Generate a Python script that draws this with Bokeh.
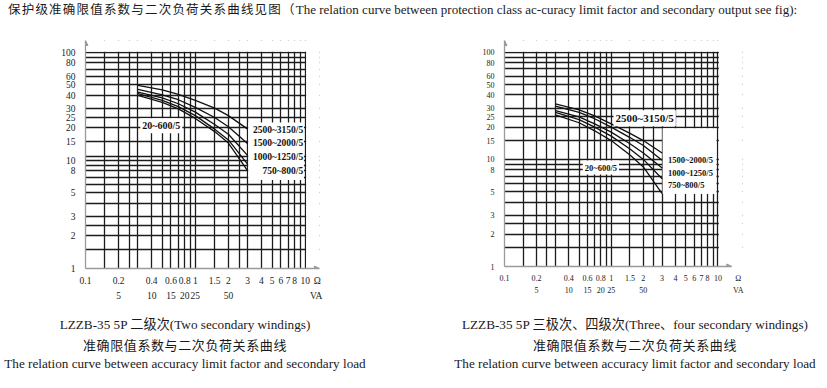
from bokeh.plotting import figure
from bokeh.models import (Range1d, LogScale, LogAxis, FixedTicker, CustomJSTickFormatter,
                          Label, BoxAnnotation, Div, Arrow, NormalHead)
from bokeh.layouts import column, row
from bokeh.embed import file_html
from bokeh.resources import INLINE

SERIF = "Liberation Serif"
CJK = "Noto Sans CJK SC"

# ---------------- data ----------------
x_ohm = [0.3, 0.5, 0.7, 1.0, 1.5, 2.0, 3.0]

# LZZB-35 5P two secondary windings
two_2500_3150 = [49.5, 45.0, 41.0, 36.0, 30.5, 26.0, 19.5]
two_1500_2000 = [45.5, 40.5, 36.5, 31.0, 25.0, 20.5, 14.3]
two_1000_1250 = [43.0, 38.0, 33.5, 28.0, 21.5, 17.5, 11.1]
two_750_800 = [41.5, 36.0, 31.5, 26.0, 19.5, 15.5, 9.2]
two_20_600 = [40.0, 34.5, 30.0, 24.5, 18.5, 14.5, 8.0]

# LZZB-35 5P three / four secondary windings
four_2500_3150 = [33.0, 29.0, 25.5, 21.5, 17.5, 15.0, 11.5]
four_1500_2000 = [31.5, 27.5, 24.0, 20.0, 16.0, 13.5, 9.8]
four_1000_1250 = [28.5, 25.0, 21.5, 18.0, 14.0, 11.5, 8.3]
four_750_800 = [27.5, 23.5, 20.0, 16.5, 12.5, 10.0, 6.6]
four_20_600 = [26.0, 22.0, 18.5, 15.0, 11.0, 8.5, 4.8]

x_grid = [0.15, 0.2, 0.25, 0.3, 0.4, 0.5, 0.6, 0.7, 0.8, 0.9, 1, 1.5, 2, 2.5, 3, 4, 5, 6, 7, 8, 9, 10]
y_grid_left = [1.5, 2, 2.5, 3, 4, 5, 6, 7, 8, 9, 10, 11, 15, 20, 25, 30, 40, 50, 60, 70, 80, 90, 100]
y_grid_right = [1.5, 2, 2.5, 3, 4, 5, 6, 7, 8, 9, 10, 15, 20, 25, 30, 40, 50, 60, 70, 80, 90, 100]
x_tick_labels = [0.1, 0.2, 0.4, 0.6, 0.8, 1, 1.5, 2, 3, 4, 5, 6, 7, 8, 10]
y_tick_labels = [1, 2, 3, 5, 8, 10, 15, 20, 25, 30, 40, 50, 60, 80, 100]
va_tick_labels = [5, 10, 15, 20, 25, 50]
VA_PER_OHM = 25  # 5 A secondary: VA = 25 x ohm

title_cn = "保护级准确限值系数与二次负荷关系曲线见图（"
title_en = "The relation curve between protection class ac-curacy limit factor and secondary output see fig):"
cap_left_1 = "LZZB-35 5P 二级次(Two secondary windings)"
cap_right_1 = "LZZB-35 5P 三极次、四级次(Three、four secondary windings)"
cap_2 = "准确限值系数与二次负荷关系曲线"
cap_3 = "The relation curve between accuracy limit factor and secondary load"

AXIS_GRAY = "#9a9a9a"


def make_chart(x_end, y_end, fw, fh, bl, br, bt, bb, tick_fs, va_standoff, y_grid,
               series, labels, box, ohm_pos, va_pos):
    p = figure(x_axis_type="log", y_axis_type="log",
               x_range=Range1d(0.1, x_end), y_range=Range1d(1, y_end),
               frame_width=fw, frame_height=fh,
               min_border_left=bl, min_border_right=br, min_border_top=bt, min_border_bottom=bb,
               output_backend="svg", toolbar_location=None)
    p.outline_line_color = None
    p.background_fill_color = "white"
    p.border_fill_color = "white"

    p.xgrid.ticker = FixedTicker(ticks=x_grid)
    p.ygrid.ticker = FixedTicker(ticks=y_grid)
    for g in (p.xgrid, p.ygrid):
        g.grid_line_color = "#1c1c1c"
        g.grid_line_width = 1.3

    p.extra_x_ranges = {"va": Range1d(0.1 * VA_PER_OHM, x_end * VA_PER_OHM)}
    p.extra_x_scales = {"va": LogScale()}

    p.xaxis.ticker = FixedTicker(ticks=x_tick_labels + [ohm_pos])
    p.yaxis.ticker = FixedTicker(ticks=y_tick_labels)
    va_axis = LogAxis(x_range_name="va",
                      ticker=FixedTicker(ticks=va_tick_labels + [va_pos * VA_PER_OHM]))
    p.add_layout(va_axis, "below")

    p.xaxis[0].formatter = CustomJSTickFormatter(args=dict(unit="Ω"),
                                                 code="return tick > 10.5 ? unit : String(tick)")
    va_axis.formatter = CustomJSTickFormatter(args=dict(unit="VA"),
                                              code="return tick > 260 ? unit : String(tick)")
    p.yaxis[0].formatter = CustomJSTickFormatter(code="return String(tick)")

    for ax in (p.xaxis[0], p.yaxis[0], va_axis):
        ax.major_tick_line_color = None
        ax.minor_tick_line_color = None
        ax.major_label_text_font = SERIF
        ax.major_label_text_font_size = tick_fs
        ax.major_label_text_color = "#222222"
        ax.axis_line_color = AXIS_GRAY
        ax.axis_line_width = 1.3
    p.xaxis[0].major_label_standoff = 1
    p.xaxis[0].bounds = (0.1, 13.5)
    p.yaxis[0].major_label_standoff = 4
    va_axis.axis_line_color = None
    va_axis.major_label_standoff = va_standoff

    # white masks: above the 100 line, right of the 10 line, and behind the series labels
    masks = [(0.1, x_end, 101.5, y_end), (10.2, x_end, 1, y_end), box]
    for (l, r, b, t) in masks:
        p.add_layout(BoxAnnotation(left=l, right=r, bottom=b, top=t, level="underlay",
                                   fill_color="white", fill_alpha=1.0, line_color=None))

    # small arrow heads at the ends of the axes
    p.add_layout(Arrow(x_start=0.1, y_start=110, x_end=0.1, y_end=y_end, line_alpha=0,
                       end=NormalHead(size=5, fill_color=AXIS_GRAY, line_color=AXIS_GRAY)))
    p.add_layout(Arrow(x_start=11, y_start=1, x_end=13.5, y_end=1, line_alpha=0,
                       end=NormalHead(size=5, fill_color=AXIS_GRAY, line_color=AXIS_GRAY)))

    for ys in series:
        p.line(x_ohm, ys, line_color="#111111", line_width=1.3)

    for (txt, x, y, align, fs, bg) in labels:
        lab = Label(x=x, y=y, text=txt, text_align=align, text_baseline="middle",
                    text_font=SERIF, text_font_style="bold", text_font_size=fs,
                    text_color="#111111")
        if bg:
            lab.background_fill_color = "white"
            lab.padding = 2
        p.add_layout(lab)
    return p


left_labels = [
    ("2500~3150/5", 9.6, 19.0, "right", "9.5px", False),
    ("1500~2000/5", 9.6, 14.4, "right", "9.5px", False),
    ("1000~1250/5", 9.6, 10.8, "right", "9.5px", False),
    ("750~800/5", 9.6, 7.96, "right", "9.5px", False),
    ("20~600/5", 0.49, 21.0, "center", "10px", True),
]
right_labels = [
    ("2500~3150/5", 2.06, 24.2, "center", "11px", True),
    ("1500~2000/5", 3.4, 9.8, "left", "8.5px", False),
    ("1000~1250/5", 3.4, 7.5, "left", "8.5px", False),
    ("750~800/5", 3.4, 5.8, "left", "8.5px", False),
    ("20~600/5", 0.8, 8.4, "center", "8.5px", True),
]

p1 = make_chart(13.5, 129, 234, 228, 85, 129, 22, 44, "9.5px", -4, y_grid_left,
                [two_2500_3150, two_1500_2000, two_1000_1250, two_750_800, two_20_600],
                left_labels, (3.03, 9.75, 6.6, 22.5), 12.9, 12.6)
p2 = make_chart(17, 129, 238, 226, 56, 78, 22, 46, "8px", -6, y_grid_right,
                [four_2500_3150, four_1500_2000, four_1000_1250, four_750_800, four_20_600],
                right_labels, (3.03, 9.7, 4.75, 19.5), 15.5, 15.5)

title_html = (
    '<div style="padding-left:8px; height:18px; line-height:18px; white-space:nowrap; color:#1a1a1a;">'
    f'<span style="font-family:\'{CJK}\'; font-size:12.5px; letter-spacing:1.2px;">{title_cn}</span>'
    f'<span style="font-family:\'{SERIF}\'; font-size:13px;">{title_en}</span>'
    '</div>'
)
div_title = Div(text=title_html, width=820, height=18, margin=(0, 0, 0, 0))


def caption_html(line1, width, shift):
    base = (f'position:relative; left:{shift}px; width:{width}px; text-align:center; white-space:nowrap; '
            'height:19.5px; line-height:19.5px; color:#1a1a1a;')
    return (
        f'<div style="padding-top:3px; width:{width}px;">'
        f'<div style="{base} font-family:\'{SERIF}\', \'{CJK}\'; font-size:13.2px;">{line1}</div>'
        f'<div style="{base} font-family:\'{CJK}\'; font-size:13px; letter-spacing:0.6px;">{cap_2}</div>'
        f'<div style="{base} font-family:\'{SERIF}\'; font-size:13.2px;">{cap_3}</div>'
        '</div>'
    )


div_cap_left = Div(text=caption_html(cap_left_1, 448, -39), width=448, height=76, margin=(0, 0, 0, 0))
div_cap_right = Div(text=caption_html(cap_right_1, 372, 1), width=372, height=76, margin=(0, 0, 0, 0))

layout = column(div_title, row(p1, p2), row(div_cap_left, div_cap_right))

open("out.html", "w").write(file_html(layout, INLINE))
